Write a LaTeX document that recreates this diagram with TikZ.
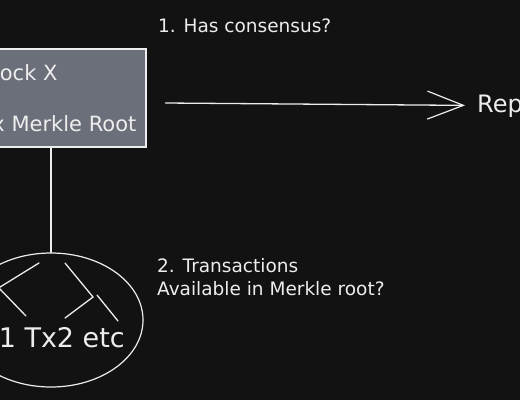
\documentclass[tikz,border=0pt]{standalone}
\usepackage{fontspec}
\setmainfont{DejaVu Sans}
\usetikzlibrary{shapes.geometric,arrows.meta}
\definecolor{bgdark}{HTML}{121212}
\definecolor{boxgray}{HTML}{6B6F79}
\definecolor{inkwhite}{HTML}{EDEDED}
\tikzset{
  blockbox/.style={draw=inkwhite,fill=boxgray,line width=1.2pt,rectangle,
    align=left,text=inkwhite,font=\fontsize{21}{25}\selectfont},
  treeoval/.style={draw=inkwhite,line width=1.2pt,ellipse,inner sep=0pt},
  note/.style={text=inkwhite,inner sep=0pt,align=left},
  wire/.style={draw=inkwhite,line width=1.3pt,line cap=round},
  flow/.style={wire,-{Straight Barb[length=36pt,width=28pt,line width=1.2pt]}}
}

\begin{document}
\begin{tikzpicture}[x=1pt,y=-1pt]

  % fixed frame, same proportions as the sketch
  \useasboundingbox (0,0) rectangle (520,400);
  \fill[bgdark] (0,0) rectangle (520,400);
  \clip (0,0) rectangle (520,400);

  % ---------------- Block header ----------------
  \node[blockbox,minimum width=176pt,minimum height=98pt] (blk) at (58,98)
    {Block X\\[26pt]Tx Merkle Root};

  % ---------------- Transactions tree ----------------
  \node[treeoval,minimum width=184pt,minimum height=134pt] (txs) at (51,320) {};
  \node[note,anchor=base east,font=\fontsize{27}{31}\selectfont] (txl) at (125,347)
    {Tx1 Tx2 etc};
  % branches
  \draw[wire] (39,263) -- (-8,292);
  \draw[wire] (-3,286) -- (26,316);
  \draw[wire] (65,263) -- (93,297) -- (65,318);
  \draw[wire] (97,295) -- (118,321);

  % ---------------- Questions ----------------
  \node[note,anchor=base west,font=\fontsize{18.5}{22}\selectfont] (q1) at (158,32)
    {1. Has consensus?};
  \node[note,anchor=base west,font=\fontsize{18.5}{23}\selectfont] (q2) at (157,295)
    {2. Transactions\\Available in Merkle root?};

  % ---------------- Reply ----------------
  \node[note,anchor=base west,font=\fontsize{24}{28}\selectfont] (rep) at (477,112)
    {Reply};

  % connectors
  \draw[wire] (blk.south -| txs.north) -- (txs.north);
  \draw[flow] ([shift={(19,5)}]blk.east) -- ([xshift=-12]rep.west);

\end{tikzpicture}
\end{document}
